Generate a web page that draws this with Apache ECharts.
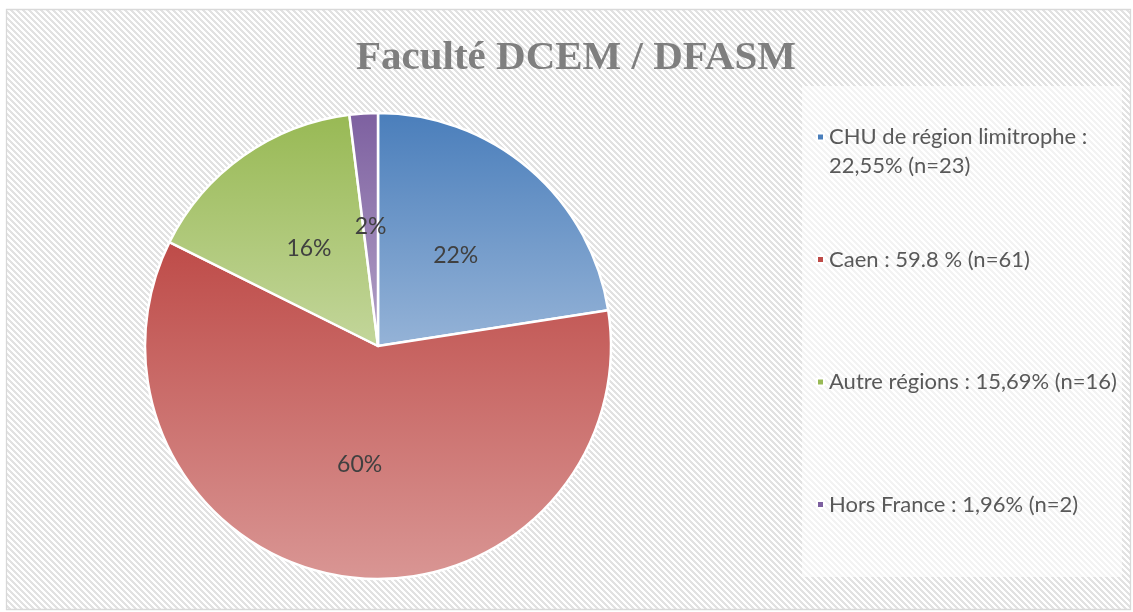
<!DOCTYPE html>
<html>
<head>
<meta charset="utf-8">
<script src="https://cdn.jsdelivr.net/npm/echarts@6/dist/echarts.min.js"></script>
<style>
  html, body { margin: 0; padding: 0; background: #fff; }
  #chart { width: 1133px; height: 612px; }
</style>
</head>
<body>
<div id="chart"></div>
<script>
// slices, clockwise from 12 o'clock
const names = [
  'CHU de région limitrophe :\n22,55% (n=23)',
  'Caen : 59.8 % (n=61)',
  'Autre régions : 15,69% (n=16)',
  'Hors France : 1,96% (n=2)'
];
const counts = [23, 61, 16, 2];
const shownPct = ['22%', '60%', '16%', '2%'];
const topColors = ['#4a7ebb', '#be4b48', '#98b954', '#7d60a0'];
const bottomColors = ['#95b3d7', '#d99694', '#c3d69b', '#b3a2c7'];

const FONT = 'Lato';

// hatch texture for the chart area
const tex = document.createElement('canvas');
tex.width = 6; tex.height = 6;
const tc = tex.getContext('2d');
tc.fillStyle = '#ffffff';
tc.fillRect(0, 0, 6, 6);
tc.fillStyle = '#e2e2e2';
for (let y = 0; y < 6; y++) {
  for (let x = 0; x < 6; x++) {
    if (((x - y) % 6 + 6) % 6 < 3) tc.fillRect(x, y, 1, 1);
  }
}

const chart = echarts.init(document.getElementById('chart'));

const pieData = counts.map((v, i) => ({
  name: names[i],
  value: v,
  itemStyle: {
    color: new echarts.graphic.LinearGradient(0, 0, 0, 1, [
      { offset: 0, color: topColors[i] },
      { offset: 1, color: bottomColors[i] }
    ])
  }
}));

const legendData = names.map((n, i) => ({
  name: n,
  itemStyle: { color: topColors[i] }
}));

chart.setOption({
  animation: false,
  backgroundColor: '#fff',
  graphic: [
    {
      type: 'rect', z: -10, silent: true,
      shape: { x: 6.5, y: 9.5, width: 1124, height: 600 },
      style: { fill: { image: tex, repeat: 'repeat' }, stroke: '#d9d9d9', lineWidth: 1.3 }
    },
    {
      type: 'rect', z: -9, silent: true,
      shape: { x: 802, y: 86, width: 320, height: 491 },
      style: { fill: 'rgba(255,255,255,0.6)' }
    }
  ],
  title: {
    text: 'Faculté DCEM / DFASM',
    left: 356,
    top: 38,
    padding: 0,
    textStyle: {
      fontFamily: 'Liberation Serif',
      fontWeight: 'bold',
      fontSize: 41,
      color: '#7f7f7f'
    }
  },
  legend: {
    orient: 'vertical',
    left: 816,
    top: 93.5,
    padding: 0,
    itemGap: 35.5,
    itemWidth: 7,
    itemHeight: 7,
    icon: 'rect',
    selectedMode: false,
    data: legendData,
    // three lines per item so the marker sits on the first text line
    formatter: n => '\n' + n + (n.indexOf('\n') < 0 ? '\n' : ''),
    textStyle: {
      fontFamily: FONT,
      fontSize: 22,
      lineHeight: 29,
      color: '#595959'
    }
  },
  series: [{
    type: 'pie',
    center: [378, 346],
    radius: 233,
    startAngle: 90,
    clockwise: true,
    silent: true,
    data: pieData,
    itemStyle: { borderColor: '#ffffff', borderWidth: 2.5 },
    label: {
      show: true,
      position: 'inside',
      formatter: p => shownPct[p.dataIndex],
      fontFamily: FONT,
      fontSize: 23,
      color: '#404040'
    },
    labelLine: { show: false }
  }]
});
</script>
</body>
</html>
